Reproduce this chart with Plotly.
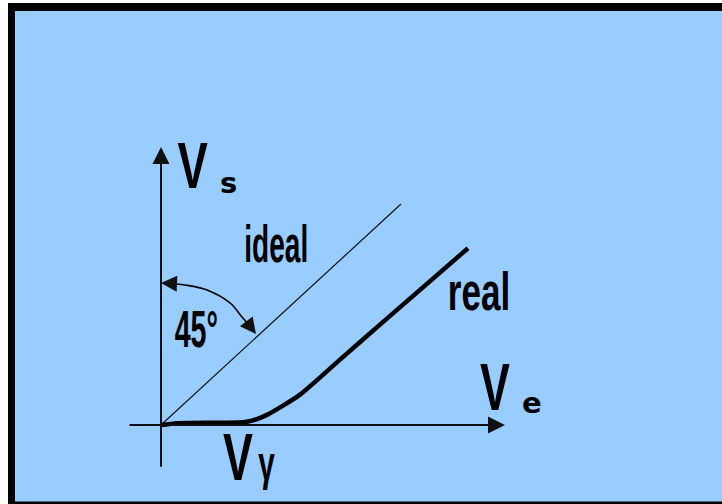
import json
import plotly.graph_objects as go

# ---------------- data (diagram units: Ve horizontal, Vs vertical) ----------------
ideal_ve = [0, 2.4]
ideal_vs = [0, 2.4]

real_ve = [0, 0.17, 0.82, 0.92, 1.06, 1.22, 1.39, 1.79, 2.19, 3.07]
real_vs = [0, 0.02, 0.03, 0.05, 0.11, 0.21, 0.33, 0.71, 1.09, 1.92]

# 45 degree angle marker arc
arc_ve = [0.04, 0.24, 0.46, 0.69, 0.81, 0.89]
arc_vs = [1.542, 1.52, 1.466, 1.325, 1.173, 1.075]

# axis extents (start, arrow tip)
y_axis_ve = [0, 0]
y_axis_vs = [-0.47, 3.02]
x_axis_ve = [-0.33, 3.44]
x_axis_vs = [0, 0]

# arc arrow heads (from, tip)
arc_start_ve = [0.11, 0.0]
arc_start_vs = [1.537, 1.542]
arc_end_ve = [0.85, 0.95]
arc_end_vs = [1.13, 0.988]

# labels
label_text = ["V", "s", "ideal", "real", "45°", "V", "e", "V", "γ"]
label_ve = [0.31, 0.67, 1.155, 3.175, 0.355, 3.34, 3.705, 0.77, 1.055]
label_vs = [2.818, 2.628, 1.966, 1.452, 1.043, 0.41, 0.239, -0.348, -0.417]
label_size = [65, 29, 52, 54, 52, 66, 29, 66, 48]
label_font = ["sansbold", "dejabold", "sansbold", "sansbold", "sansbold",
              "sansbold", "dejabold", "sansbold", "sansbold"]
label_squeeze = [0.70, 1.0, 0.54, 0.65, 0.55, 0.68, 1.0, 0.68, 0.62]

BG = "#99CCFF"
INK = "#000000"

fig = go.Figure()

fig.add_trace(go.Scatter(x=ideal_ve, y=ideal_vs, mode="lines",
                         line=dict(color="#111111", width=1.2), hoverinfo="skip"))
fig.add_trace(go.Scatter(x=real_ve, y=real_vs, mode="lines",
                         line=dict(color=INK, width=4.5, shape="spline", smoothing=0.7),
                         hoverinfo="skip"))
fig.add_trace(go.Scatter(x=arc_ve, y=arc_vs, mode="lines",
                         line=dict(color=INK, width=1.6, shape="spline"), hoverinfo="skip"))

squeeze = []


def arrow(xs, ys, width, size):
    fig.add_annotation(x=xs[1], y=ys[1], ax=xs[0], ay=ys[0],
                       xref="x", yref="y", axref="x", ayref="y",
                       showarrow=True, arrowhead=2, arrowwidth=width,
                       arrowsize=size, arrowcolor="#111111", text="", standoff=0)
    squeeze.append(1.0)


arrow(y_axis_ve, y_axis_vs, 2, 1.7)
arrow(x_axis_ve, x_axis_vs, 2, 1.7)
arrow(arc_start_ve, arc_start_vs, 1.6, 2.0)
arrow(arc_end_ve, arc_end_vs, 1.6, 2.0)

fonts = {
    "sansbold": dict(family="Liberation Sans, Arial, sans-serif", weight="bold"),
    "dejabold": dict(family="DejaVu Sans", weight="bold"),
}
for t, xv, yv, s, f, q in zip(label_text, label_ve, label_vs, label_size,
                              label_font, label_squeeze):
    fig.add_annotation(x=xv, y=yv, xref="x", yref="y", text=t, showarrow=False,
                       xanchor="center", yanchor="middle",
                       font=dict(size=s, color=INK, **fonts[f]))
    squeeze.append(q)

# frame
fig.add_shape(type="rect", xref="paper", yref="paper", x0=8 / 722, x1=1.01,
              y0=-0.01, y1=1 - 3 / 504, fillcolor="#000000", line_width=0, layer="below")
fig.add_shape(type="rect", xref="paper", yref="paper", x0=15 / 722, x1=1.01,
              y0=1 - 501.5 / 504, y1=1 - 11 / 504, fillcolor=BG, line_width=0, layer="below")

fig.update_layout(
    width=722, height=504,
    margin=dict(l=0, r=0, t=0, b=0),
    paper_bgcolor="white", plot_bgcolor="rgba(0,0,0,0)",
    showlegend=False,
    xaxis=dict(range=[-1.61, 5.61], visible=False, fixedrange=True),
    yaxis=dict(range=[-0.858, 4.6156], visible=False, fixedrange=True),
)

post = (
    "document.body.style.margin='0';"
    "var gd=document.getElementById('{plot_id}');"
    "var sc=" + json.dumps(squeeze) + ";"
    "gd.querySelectorAll('g.annotation').forEach(function(g){"
    "var i=+g.getAttribute('data-index');var t=g.querySelector('text.annotation-text');"
    "if(t&&sc[i]!==undefined&&sc[i]!==1){t.style.transformBox='fill-box';"
    "t.style.transformOrigin='center';t.style.transform='scaleX('+sc[i]+')';}});"
)

fig.write_html("out.html", post_script=post, config={"staticPlot": True})
